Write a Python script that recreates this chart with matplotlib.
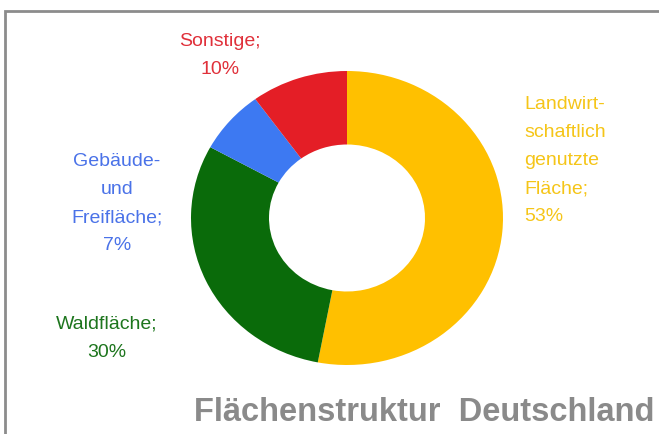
import matplotlib.pyplot as plt
from matplotlib.patches import Rectangle

plt.rcParams['font.family'] = ['Liberation Sans', 'DejaVu Sans']

labels = ["Landwirt-\nschaftlich\ngenutzte\nFläche;", "Waldfläche;", "Gebäude-\nund\nFreifläche;", "Sonstige;"]
shares = [53, 30, 7, 10]
colors = ["#FFC000", "#0A6B0A", "#3D79F2", "#E41E26"]
text_colors = ["#F5C518", "#1D751D", "#4A72E8", "#E0303A"]

W, H = 659, 435
fig = plt.figure(figsize=(W / 100, H / 100), dpi=100)

# full-figure axes in pixel units for frame and texts
ax = fig.add_axes([0, 0, 1, 1])
ax.set_xlim(0, W)
ax.set_ylim(0, H)
ax.axis('off')

ax.add_patch(Rectangle((5, -10), W + 10, H - 12 + 10, fill=False,
                       edgecolor="#8c8c8c", lw=2))

# donut in its own axes (slightly wider than tall)
cx, cy, rx, ry = 347, 219, 156, 147
pax = fig.add_axes([(cx - rx) / W, (H - cy - ry) / H, 2 * rx / W, 2 * ry / H])
pax.pie(shares, colors=colors, startangle=90, counterclock=False, radius=1,
        wedgeprops=dict(width=0.5, edgecolor='none'))
pax.set_aspect('auto')
pax.set_xlim(-1, 1)
pax.set_ylim(-1, 1)
pax.axis('off')

# labels: (x, y of first line, alignment)
pos = [(524, 96, 'left'), (107, 316, 'center'), (117, 153, 'center'), (220, 33, 'center')]
for lab, v, c, (x, y, ha) in zip(labels, shares, text_colors, pos):
    ax.text(x, H - y, f"{lab}\n{v}%", color=c, fontsize=14, ha=ha, va='top',
            multialignment=ha, linespacing=1.85)

ax.text(655, H - 413, "Flächenstruktur  Deutschland", color="#8a8a8a",
        fontsize=23.5, fontweight='bold', ha='right', va='center')

fig.savefig("out.png", dpi=100)
